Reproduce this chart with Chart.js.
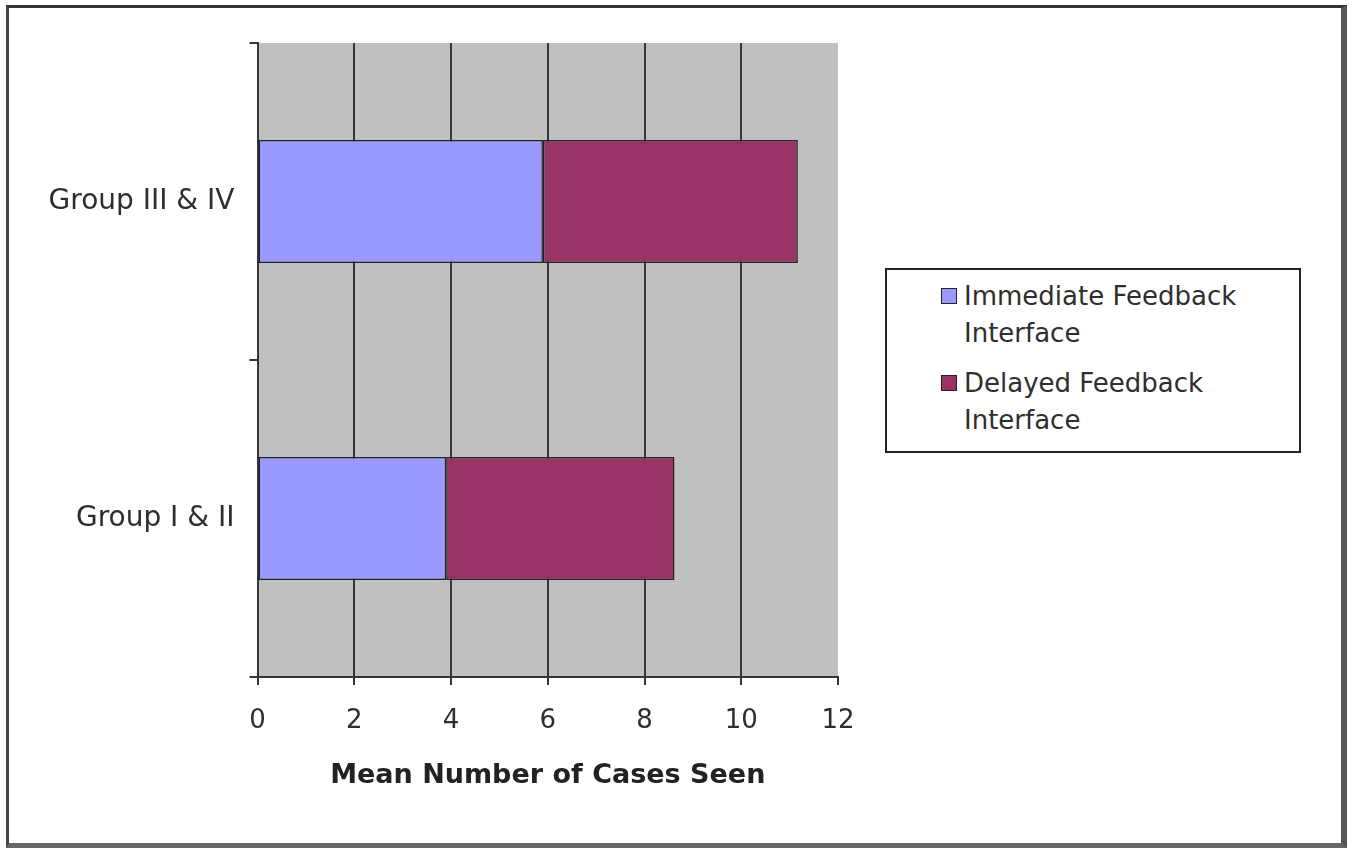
<!DOCTYPE html>
<html>
<head>
<meta charset="utf-8">
<script src="https://cdn.jsdelivr.net/npm/chart.js@4/dist/chart.umd.min.js"></script>
<style>
    body { margin: 0; background: #fff; font-family: 'DejaVu Sans', sans-serif; }
    #frame {
        position: absolute; left: 6px; top: 5px; width: 1341px; height: 843px;
        box-sizing: border-box;
        border-left: 3px solid #444; border-top: 3px solid #333;
        border-right: 6px solid #555; border-bottom: 5px solid #666;
    }
    #wrap { position: absolute; left: 0; top: 0; width: 1353px; height: 848px; }
    #legend {
        position: absolute; left: 885px; top: 268px; width: 416px; height: 185px;
        box-sizing: border-box; border: 2px solid #222; background: #fff;
    }
    .item { position: absolute; left: 77px; font-size: 26px; line-height: 37px; color: #2e2e2e; }
    .swatch { position: absolute; left: -23px; top: 10px; width: 14px; height: 14px; border: 1.5px solid #222; }
</style>
</head>
<body>
<div id="frame"></div>
<div id="wrap"><canvas id="chart"></canvas></div>
<div id="legend"></div>
<script>
const groups = ['Group III & IV', 'Group I & II'];
const immediateValues = [5.9, 3.9];
const delayedValues = [5.27, 4.72];
const seriesNames = [
    ['Immediate Feedback', 'Interface'],
    ['Delayed Feedback', 'Interface']
];
const seriesColors = ['#9999ff', '#993366'];
const xTicks = [0, 2, 4, 6, 8, 10, 12];

const plotBackground = {
    id: 'plotBackground',
    beforeDraw(chart) {
        const { ctx, chartArea } = chart;
        ctx.save();
        ctx.fillStyle = '#c0c0c0';
        ctx.fillRect(chartArea.left, chartArea.top, chartArea.width, chartArea.height);
        ctx.restore();
    }
};

function buildLegend(datasets) {
    const box = document.getElementById('legend');
    datasets.forEach((ds, i) => {
        const item = document.createElement('div');
        item.className = 'item';
        item.style.top = (8 + i * 87) + 'px';
        item.innerHTML = '<span class="swatch" style="background:' + ds.backgroundColor + '"></span>' +
            seriesNames[i].join('<br>');
        box.appendChild(item);
    });
}

const datasets = [
    { label: seriesNames[0].join(' '), data: immediateValues, backgroundColor: seriesColors[0] },
    { label: seriesNames[1].join(' '), data: delayedValues, backgroundColor: seriesColors[1] }
].map(ds => Object.assign(ds, {
    borderColor: '#222',
    borderWidth: 1.5,
    borderSkipped: false,
    categoryPercentage: 1,
    barPercentage: 0.388
}));

new Chart(document.getElementById('chart'), {
    type: 'bar',
    data: { labels: groups, datasets: datasets },
    options: {
        indexAxis: 'y',
        responsive: true,
        maintainAspectRatio: false,
        animation: false,
        layout: { padding: { left: 0, top: 43, right: 515, bottom: 0 } },
        plugins: { legend: { display: false }, tooltip: { enabled: false } },
        scales: {
            x: {
                stacked: true,
                min: 0,
                max: 12,
                afterBuildTicks: scale => { scale.ticks = xTicks.map(v => ({ value: v })); },
                afterFit: scale => { scale.height = 171; },
                grid: {
                    color: ctx => (ctx.tick && ctx.tick.value === 12 ? 'rgba(0,0,0,0)' : '#363636'),
                    tickColor: '#363636',
                    lineWidth: 2,
                    tickLength: 8
                },
                border: { color: '#363636', width: 2 },
                ticks: {
                    padding: 21,
                    color: '#2e2e2e',
                    font: { family: 'DejaVu Sans', size: 26 }
                },
                title: {
                    display: true,
                    text: 'Mean Number of Cases Seen',
                    color: '#222',
                    padding: { top: 0, bottom: 56 },
                    font: { family: 'DejaVu Sans', size: 27, weight: 'bold' }
                }
            },
            y: {
                stacked: true,
                afterFit: scale => { scale.width = 257.5; },
                grid: {
                    offset: true,
                    drawOnChartArea: false,
                    tickColor: '#363636',
                    lineWidth: 2,
                    tickLength: 8
                },
                border: { color: '#363636', width: 2 },
                ticks: {
                    padding: 15,
                    color: '#2e2e2e',
                    font: { family: 'DejaVu Sans', size: 28 }
                }
            }
        }
    },
    plugins: [plotBackground]
});

buildLegend(datasets);
</script>
</body>
</html>
